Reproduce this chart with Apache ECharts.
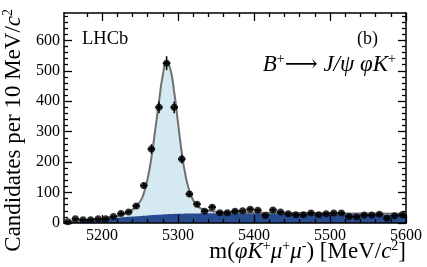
<!DOCTYPE html>
<html><head><meta charset="utf-8">
<script src="https://cdn.jsdelivr.net/npm/echarts@6/dist/echarts.min.js"></script>
<style>html,body{margin:0;padding:0;background:#fff}#c{width:427px;height:267px}</style>
</head><body><div id="c"></div><script>
// ---- data ----
const massBins = [5155,5165,5175,5185,5195,5205,5215,5225,5235,5245,5255,5265,5275,5285,5295,5305,5315,5325,5335,5345,5355,5365,5375,5385,5395,5405,5415,5425,5435,5445,5455,5465,5475,5485,5495,5505,5515,5525,5535,5545,5555,5565,5575,5585,5595];
const counts   = [4,14,11,11,14,14,21,31,36,56,123,243,380,525,380,210,95,62,39,52,34,34,39,40,45,42,25,43,36,30,27,27,33,27,30,33,33,21,20,26,26,29,16,24,27];
const fitMass  = [5150,5160,5170,5180,5190,5200,5210,5220,5230,5240,5250,5255,5260,5265,5270,5275,5280,5285,5290,5295,5300,5305,5310,5315,5320,5325,5330,5340,5350,5360,5380,5400,5450,5500,5550,5600];
const fitTotal = [3,6,8,10,12,14,18,23,31,44,70,98,145,215,305,400,485,530,505,430,330,230,155,105,75,58,48,41,37,35,34,34,33,32,31,30];
const bgMass   = [5150,5160,5170,5180,5190,5200,5220,5240,5260,5280,5300,5320,5340,5360,5400,5450,5500,5550,5600];
const bgVals   = [0,3,6,9,11,13,17,21,25,28,30,31,32,32,32,31,30,29,28];
const xMajorTicks = [5200,5300,5400,5500,5600];
const xMinorTicks = [5180,5220,5240,5260,5280,5320,5340,5360,5380,5420,5440,5460,5480,5520,5540,5560,5580];
const yMajorTicks = [0,100,200,300,400,500,600];
const yMinorTicks = [20,40,60,80,120,140,160,180,220,240,260,280,320,340,360,380,420,440,460,480,520,540,560,580,620,640,660,680];
const binHalfWidth = 5;

const SERIF = '"Liberation Serif","DejaVu Serif",serif';
const chart = echarts.init(document.getElementById('c'), null, {renderer:'canvas'});
const pts = massBins.map((m,i)=>[m,counts[i]]);
const tot = fitMass.map((m,i)=>[m,fitTotal[i]]);
const bg = bgMass.map((m,i)=>[m,bgVals[i]]);

function xAx(pos, major){
  return {type:'value', min:5150, max:5600, position:pos, z:10,
    axisLine:{show:major, onZero:false, lineStyle:{color:'#000',width:1.5}},
    axisTick:{show:true, inside:true, length: major?8:4, customValues: major?xMajorTicks:xMinorTicks, lineStyle:{color:'#000',width:1.3}},
    axisLabel:{show: major && pos==='bottom', customValues:xMajorTicks, formatter:v=>String(v), color:'#000', fontFamily:SERIF, fontSize:16, margin:5},
    splitLine:{show:false}};
}
function yAx(pos, major){
  return {type:'value', min:0, max:690, position:pos, z:10,
    axisLine:{show:major, onZero:false, lineStyle:{color:'#000',width:1.5}},
    axisTick:{show:true, inside:true, length: major?8:4, customValues: major?yMajorTicks:yMinorTicks, lineStyle:{color:'#000',width:1.3}},
    axisLabel:{show: major && pos==='left', customValues:yMajorTicks, formatter:v=>String(v), color:'#000', fontFamily:SERIF, fontSize:16, margin:4},
    splitLine:{show:false}};
}
function rich(fs, ss, lh){
  return {i:{fontFamily:SERIF, fontStyle:'italic', fontSize:fs, lineHeight:lh},
          n:{fontFamily:SERIF, fontSize:fs, lineHeight:lh},
          s:{fontFamily:SERIF, fontSize:ss, lineHeight:lh, verticalAlign:'top'}};
}

chart.setOption({
  animation:false,
  backgroundColor:'#fff',
  grid:{left:64,right:21,top:13,bottom:44,containLabel:false},
  xAxis:[xAx('bottom',true),xAx('bottom',false),xAx('top',true),xAx('top',false)],
  yAxis:[yAx('left',true),yAx('left',false),yAx('right',true),yAx('right',false)],
  series:[
    {type:'line', data:tot, smooth:true, showSymbol:false, lineStyle:{width:0}, areaStyle:{color:'#d5e9f2',opacity:1}, z:1},
    {type:'line', data:bg, smooth:true, showSymbol:false, lineStyle:{width:0}, areaStyle:{color:'#284a8e',opacity:1}, z:2},
    {type:'line', data:tot, smooth:true, showSymbol:false, lineStyle:{width:2,color:'#707070'}, z:3},
    {type:'custom', z:4, data:pts, renderItem:function(params, api){
        const m = api.value(0), n = api.value(1), e = Math.sqrt(n);
        const a = api.coord([m-binHalfWidth,n]), b = api.coord([m+binHalfWidth,n]);
        const t = api.coord([m,n+e]), u = api.coord([m,Math.max(0,n-e)]);
        const st = {stroke:'#000', lineWidth:1.5};
        return {type:'group', children:[
          {type:'line', shape:{x1:a[0],y1:a[1],x2:b[0],y2:b[1]}, style:st},
          {type:'line', shape:{x1:t[0],y1:t[1],x2:u[0],y2:u[1]}, style:st}
        ]};
    }},
    {type:'scatter', data:pts, symbol:'circle', symbolSize:7, itemStyle:{color:'#000'}, z:5}
  ],
  graphic:[
    {type:'text', x:82, y:30, style:{text:'LHCb', fontFamily:SERIF, fontSize:18.5, fill:'#000'}},
    {type:'text', x:378, y:30, style:{text:'(b)', fontFamily:SERIF, fontSize:18, fill:'#000', align:'right'}},
    {type:'text', x:396, y:52, style:{text:'{i|B}{s|+}{n|⟶ }{i|J/ψ φK}{s|+}', align:'right', fontFamily:SERIF, fontSize:23, fill:'#000', rich:rich(23,14,26)}},
    {type:'text', x:406, y:239, style:{text:'{n|m(}{i|φK}{s|+}{i|μ}{s|+}{i|μ}{s|-}{n|) [MeV/}{i|c}{s|2}{n|]}', align:'right', fontFamily:SERIF, fontSize:23, fill:'#000', rich:rich(23,14,26)}},
    {type:'text', x:1, y:9, rotation:Math.PI/2, style:{text:'{n|Candidates per 10 MeV/}{i|c}{s|2}', align:'right', verticalAlign:'top', fontFamily:SERIF, fontSize:23, fill:'#000', rich:rich(23,14,26)}}
  ]
});
</script></body></html>
